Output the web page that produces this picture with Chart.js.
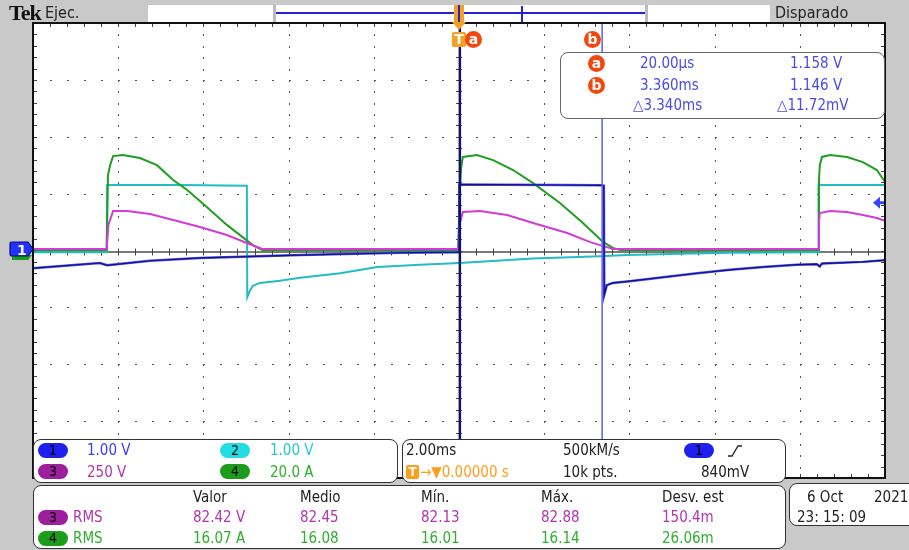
<!DOCTYPE html>
<html>
<head>
<meta charset="utf-8">
<script src="https://cdn.jsdelivr.net/npm/chart.js@4"></script>
<style>
  body { margin: 0; }
  #wrap { position: relative; width: 909px; height: 550px; background: #c9c9c9; overflow: hidden; }
  #scope { position: absolute; left: 0; top: 0; }
  .t { position: absolute; font-family: "DejaVu Sans Condensed", "DejaVu Sans", sans-serif; font-size: 15px; line-height: 16px; white-space: pre; color: #222; }
  .box { position: absolute; background: #fff; border: 1.5px solid #4a4a4a; border-radius: 8px; box-sizing: border-box; }
  .pill { position: absolute; width: 30px; height: 15px; border-radius: 8px; font-family: "DejaVu Sans Condensed", "DejaVu Sans", sans-serif; font-size: 14px; line-height: 15px; text-align: center; color: #000; }
  .dot { position: absolute; width: 17px; height: 17px; border-radius: 50%; background: #f2480e; color: #fff; font: bold 14px/16px "DejaVu Sans", sans-serif; text-align: center; }
  .c1 { color: #3c3cf0; } .c2 { color: #26c8d2; } .c3 { color: #b134b1; } .c4 { color: #2db02d; } .or { color: #ff9d1a; } .cur { color: #4b4be6; }
  .p1 { background: #2020ee; } .p2 { background: #22dde2; } .p3 { background: #9c1f9c; } .p4 { background: #1b9c1b; }
</style>
</head>
<body>
<div id="wrap">
  <canvas id="scope" width="909" height="550"></canvas>

  <!-- top bar -->
  <div class="t" style="left:9px;top:2px;font:bold 22px/22px 'Liberation Serif','DejaVu Serif',serif;color:#111;letter-spacing:-1px">Tek</div>
  <div class="t" style="left:45px;top:5px;font-size:16px">Ejec.</div>
  <div style="position:absolute;left:148px;top:5px;width:622px;height:17px;background:#fff"></div>
  <div style="position:absolute;left:273px;top:5px;width:3px;height:17px;background:#bbb"></div>
  <div style="position:absolute;left:645px;top:5px;width:3px;height:17px;background:#bbb"></div>
  <div style="position:absolute;left:276px;top:12px;width:369px;height:2px;background:#2323d2"></div>
  <div style="position:absolute;left:521px;top:6px;width:2px;height:16px;background:#2323d2"></div>
  <div style="position:absolute;left:454px;top:5px;width:10px;height:18px;background:#f4a020"></div>
  <div style="position:absolute;left:458px;top:5px;width:2px;height:18px;background:#2323d2"></div>
  <div style="position:absolute;left:452px;top:22px;width:0;height:0;border-left:7px solid transparent;border-right:7px solid transparent;border-top:8px solid #f4a020"></div>
  <div class="t" style="left:775px;top:5px;font-size:16px">Disparado</div>

  <!-- trigger / cursor markers -->
  <div style="position:absolute;left:452px;top:32px;width:14px;height:15px;background:#f4a020;border-radius:2px;color:#fff;font:bold 14px/15px 'DejaVu Sans',sans-serif;text-align:center">T</div>
  <div class="dot" style="left:465px;top:31px">a</div>
  <div class="dot" style="left:584px;top:31px">b</div>

  <!-- cursor readout -->
  <div class="box" style="left:560px;top:52px;width:325px;height:67px;border-color:#666"></div>
  <div class="dot" style="left:588px;top:55px">a</div>
  <div class="dot" style="left:588px;top:77px">b</div>
  <div class="t cur" style="left:640px;top:55px">20.00µs</div>
  <div class="t cur" style="left:790px;top:55px">1.158 V</div>
  <div class="t cur" style="left:640px;top:77px">3.360ms</div>
  <div class="t cur" style="left:790px;top:77px">1.146 V</div>
  <div class="t cur" style="left:633px;top:97px">△3.340ms</div>
  <div class="t cur" style="left:777px;top:97px">△11.72mV</div>

  <!-- ch1 ground marker -->
  <svg style="position:absolute;left:8px;top:239px" width="28" height="24">
    <path d="M4 16 L24 16 L20 21 L4 21 Z" fill="#1b9c1b"/>
    <path d="M4 3 L20 3 L25 10 L20 17 L4 17 Q2 17 2 15 L2 5 Q2 3 4 3 Z" fill="#2233ff" stroke="#0a0a80" stroke-width="1.2"/>
    <text x="9" y="15.5" fill="#fff" font-family="DejaVu Sans" font-weight="bold" font-size="14">1</text>
  </svg>

  <!-- channel scales box -->
  <div class="box" style="left:33px;top:439px;width:365px;height:44px;border-color:#333"></div>
  <div class="pill p1" style="left:38px;top:443px">1</div>
  <div class="t c1" style="left:87px;top:442px">1.00 V</div>
  <div class="pill p2" style="left:220px;top:443px">2</div>
  <div class="t c2" style="left:270px;top:442px">1.00 V</div>
  <div class="pill p3" style="left:38px;top:464px">3</div>
  <div class="t c3" style="left:87px;top:464px">250 V</div>
  <div class="pill p4" style="left:220px;top:464px">4</div>
  <div class="t c4" style="left:270px;top:464px">20.0 A</div>

  <!-- timebase box -->
  <div class="box" style="left:402px;top:439px;width:384px;height:44px;border-color:#333"></div>
  <div class="t" style="left:406px;top:442px">2.00ms</div>
  <div class="t" style="left:563px;top:442px">500kM/s</div>
  <div class="pill p1" style="left:684px;top:443px">1</div>
  <svg style="position:absolute;left:726px;top:443px" width="18" height="16">
    <polyline points="2,13 6,13 12,3 16,3" fill="none" stroke="#222" stroke-width="1.3"/>
  </svg>
  <div style="position:absolute;left:406px;top:465px;width:13px;height:14px;background:#ff9d1a;border-radius:2px;color:#fff;font:bold 12px/14px 'DejaVu Sans',sans-serif;text-align:center">T</div>
  <div class="t or" style="left:420px;top:464px">→▼0.00000 s</div>
  <div class="t" style="left:563px;top:464px">10k pts.</div>
  <div class="t" style="left:701px;top:464px">840mV</div>

  <!-- measurements box -->
  <div class="box" style="left:33px;top:485px;width:753px;height:64px;border-color:#333"></div>
  <div class="t" style="left:193px;top:489px">Valor</div>
  <div class="t" style="left:300px;top:489px">Medio</div>
  <div class="t" style="left:421px;top:489px">Mín.</div>
  <div class="t" style="left:541px;top:489px">Máx.</div>
  <div class="t" style="left:662px;top:489px">Desv. est</div>
  <div class="pill p3" style="left:38px;top:510px">3</div>
  <div class="t c3" style="left:73px;top:509px">RMS</div>
  <div class="t c3" style="left:193px;top:509px">82.42 V</div>
  <div class="t c3" style="left:300px;top:509px">82.45</div>
  <div class="t c3" style="left:421px;top:509px">82.13</div>
  <div class="t c3" style="left:541px;top:509px">82.88</div>
  <div class="t c3" style="left:662px;top:509px">150.4m</div>
  <div class="pill p4" style="left:38px;top:531px">4</div>
  <div class="t c4" style="left:73px;top:530px">RMS</div>
  <div class="t c4" style="left:193px;top:530px">16.07 A</div>
  <div class="t c4" style="left:300px;top:530px">16.08</div>
  <div class="t c4" style="left:421px;top:530px">16.01</div>
  <div class="t c4" style="left:541px;top:530px">16.14</div>
  <div class="t c4" style="left:662px;top:530px">26.06m</div>

  <!-- date box -->
  <div class="box" style="left:789px;top:483px;width:130px;height:43px;border-color:#333"></div>
  <div class="t" style="left:807px;top:489px">6 Oct</div>
  <div class="t" style="left:874px;top:489px">2021</div>
  <div class="t" style="left:797px;top:509px">23: 15: 09</div>
</div>

<script>
// time axis in ms (2 ms/div, trigger at centre), values in channel units
const timeDivs = 10, voltDivs = 8;
const msPerDiv = 2;
const ch1Scale = 1, ch2Scale = 1, ch3Scale = 250, ch4Scale = 20;
const cursorA = 0.02, cursorB = 3.36;
const triggerLevel = 0.84;

// CH1 (V)
const ch1Time = [-10, -8.43, -8.26, -7.25, -6.08, -3.73, -1.38, 0, 0.01, 0.96, 2.37, 3.36, 3.40, 3.41, 3.47, 3.61, 4.01, 4.79, 5.59, 6.36, 7.14, 7.93, 8.40, 8.47, 8.52, 9.48, 10];
const ch1Volts = [-0.31, -0.22, -0.26, -0.18, -0.13, -0.08, -0.04, -0.03, 1.16, 1.158, 1.152, 1.146, 1.14, -0.78, -0.61, -0.57, -0.54, -0.47, -0.40, -0.34, -0.29, -0.25, -0.24, -0.28, -0.23, -0.20, -0.17];

// CH2 (V)
const ch2Time = [-10, -8.27, -8.26, -6.55, -4.98, -4.97, -4.91, -4.84, -4.67, -4.20, -3.73, -2.79, -1.92, -0.92, 0.02, 1.74, 3.31, 3.94, 4.95, 6.36, 8.31, 8.43, 8.44, 10];
const ch2Volts = [-0.03, -0.03, 1.15, 1.15, 1.14, -0.82, -0.71, -0.62, -0.57, -0.53, -0.48, -0.40, -0.29, -0.25, -0.22, -0.14, -0.10, -0.08, -0.06, -0.04, -0.03, -0.03, 1.15, 1.15];

// CH3 (V)
const ch3Time = [-10, -8.27, -8.23, -8.19, -8.12, -7.79, -7.25, -6.71, -6.08, -5.45, -4.98, -4.62, -0.02, 0.01, 0.09, 0.49, 1.13, 1.74, 2.54, 3.08, 3.47, 3.61, 8.43, 8.45, 8.47, 8.71, 9.11, 9.48, 9.81, 10];
const ch3Volts = [6.6, 6.6, 112, 134, 174, 174, 160, 134, 103, 68, 33, 7, 6.6, 112, 169, 174, 156, 121, 77, 37, 15, 6.6, 6.6, 125, 165, 174, 169, 156, 143, 130];

// CH4 (A)
const ch4Time = [-10, -8.27, -8.24, -8.19, -8.12, -7.89, -7.49, -7.09, -6.71, -6.38, -5.92, -5.45, -5.14, -4.84, -4.62, -0.02, 0.02, 0.05, 0.09, 0.42, 0.80, 1.27, 1.74, 2.37, 2.91, 3.38, 3.61, 3.78, 8.43, 8.45, 8.47, 8.52, 8.71, 9.11, 9.48, 9.81, 10];
const ch4Amps = [0.2, 0.2, 26.5, 30.0, 33.2, 33.6, 32.5, 30.0, 24.8, 21.3, 15.3, 9.0, 5.4, 1.9, 0.2, 0.2, 21.3, 29.0, 32.9, 33.6, 31.8, 28.3, 23.7, 16.7, 9.7, 3.0, 0.9, 0.2, 0.2, 24.8, 30.0, 32.9, 33.6, 32.9, 31.1, 28.3, 24.1];

const toDivs = (times, vals, scale) => times.map((t, i) => ({ x: t, y: vals[i] / scale }));

const graticule = {
    id: 'graticule',
    beforeDatasetsDraw(chart) {
        const { ctx, chartArea: a } = chart;
        const w = (a.right - a.left) / timeDivs, h = (a.bottom - a.top) / voltDivs;
        const cx = a.left + w * timeDivs / 2, cy = a.top + h * voltDivs / 2;
        ctx.save();
        ctx.fillStyle = '#fff';
        ctx.fillRect(a.left, a.top, a.right - a.left, a.bottom - a.top);
        ctx.fillStyle = '#555';
        for (let i = 1; i < timeDivs; i++) {
            if (i === timeDivs / 2) continue;
            const x = Math.round(a.left + i * w);
            for (let k = 1; k < voltDivs * 5; k++) ctx.fillRect(x, Math.round(a.top + k * h / 5), 1, 2);
        }
        for (let j = 1; j < voltDivs; j++) {
            if (j === voltDivs / 2) continue;
            const y = Math.round(a.top + j * h);
            for (let k = 1; k < timeDivs * 5; k++) ctx.fillRect(Math.round(a.left + k * w / 5), y, 2, 1);
        }
        // centre line with ticks
        ctx.strokeStyle = '#7a7a7a';
        ctx.lineWidth = 2;
        ctx.beginPath();
        ctx.moveTo(a.left, cy + 1.5); ctx.lineTo(a.right, cy + 1.5);
        ctx.stroke();
        ctx.strokeStyle = '#444';
        ctx.lineWidth = 1;
        ctx.beginPath();
        for (let k = 1; k < timeDivs * 5; k++) {
            const x = Math.round(a.left + k * w / 5) + 0.5;
            ctx.moveTo(x, cy - 2); ctx.lineTo(x, cy + 5);
            ctx.moveTo(x, a.top); ctx.lineTo(x, a.top + 4);
            ctx.moveTo(x, a.bottom); ctx.lineTo(x, a.bottom - 4);
        }
        for (let k = 1; k < voltDivs * 5; k++) {
            const y = Math.round(a.top + k * h / 5) + 0.5;
            ctx.moveTo(cx - 3, y); ctx.lineTo(cx + 3, y);
            ctx.moveTo(a.left, y); ctx.lineTo(a.left + 4, y);
            ctx.moveTo(a.right, y); ctx.lineTo(a.right - 4, y);
        }
        ctx.stroke();
        ctx.restore();
    },
    afterDatasetsDraw(chart) {
        const { ctx, chartArea: a, scales } = chart;
        ctx.save();
        // cursor b
        let x = scales.x.getPixelForValue(cursorB);
        ctx.strokeStyle = '#5b5bf5';
        ctx.lineWidth = 1.5;
        ctx.beginPath(); ctx.moveTo(x, a.top); ctx.lineTo(x, a.bottom); ctx.stroke();
        // cursor a
        x = scales.x.getPixelForValue(cursorA);
        ctx.strokeStyle = '#12126e';
        ctx.lineWidth = 2.5;
        ctx.beginPath(); ctx.moveTo(x, a.top); ctx.lineTo(x, a.bottom); ctx.stroke();
        // trigger level arrow
        const y = scales.y.getPixelForValue(triggerLevel / ch1Scale);
        ctx.fillStyle = '#3344ff';
        ctx.beginPath();
        ctx.moveTo(a.right - 12, y); ctx.lineTo(a.right - 5, y - 6); ctx.lineTo(a.right - 5, y + 6);
        ctx.closePath(); ctx.fill();
        ctx.fillRect(a.right - 6, y - 1.5, 6, 3);
        // border
        ctx.strokeStyle = '#111';
        ctx.lineWidth = 2;
        ctx.strokeRect(a.left, a.top, a.right - a.left, a.bottom - a.top);
        ctx.restore();
    }
};

new Chart(document.getElementById('scope'), {
    type: 'line',
    data: {
        datasets: [
            { data: toDivs(ch1Time, ch1Volts, ch1Scale), borderColor: '#12127e', borderWidth: 1.2 },
            { data: toDivs(ch1Time, ch1Volts, ch1Scale), borderColor: '#4a4aee', borderWidth: 2.5 },
            { data: toDivs(ch3Time, ch3Volts, ch3Scale), borderColor: '#d23cd2', borderWidth: 2 },
            { data: toDivs(ch4Time, ch4Amps, ch4Scale), borderColor: '#1f9e1f', borderWidth: 2 },
            { data: toDivs(ch2Time, ch2Volts, ch2Scale), borderColor: '#22bcc4', borderWidth: 2 }
        ]
    },
    options: {
        responsive: false,
        animation: false,
        layout: { padding: { left: 33, right: 24, top: 23, bottom: 72 } },
        scales: {
            x: { type: 'linear', min: -timeDivs / 2 * msPerDiv, max: timeDivs / 2 * msPerDiv, display: false },
            y: { min: -voltDivs / 2, max: voltDivs / 2, display: false }
        },
        elements: { point: { radius: 0 }, line: { tension: 0 } },
        plugins: { legend: { display: false }, tooltip: { enabled: false } }
    },
    plugins: [graticule]
});
</script>
</body>
</html>
